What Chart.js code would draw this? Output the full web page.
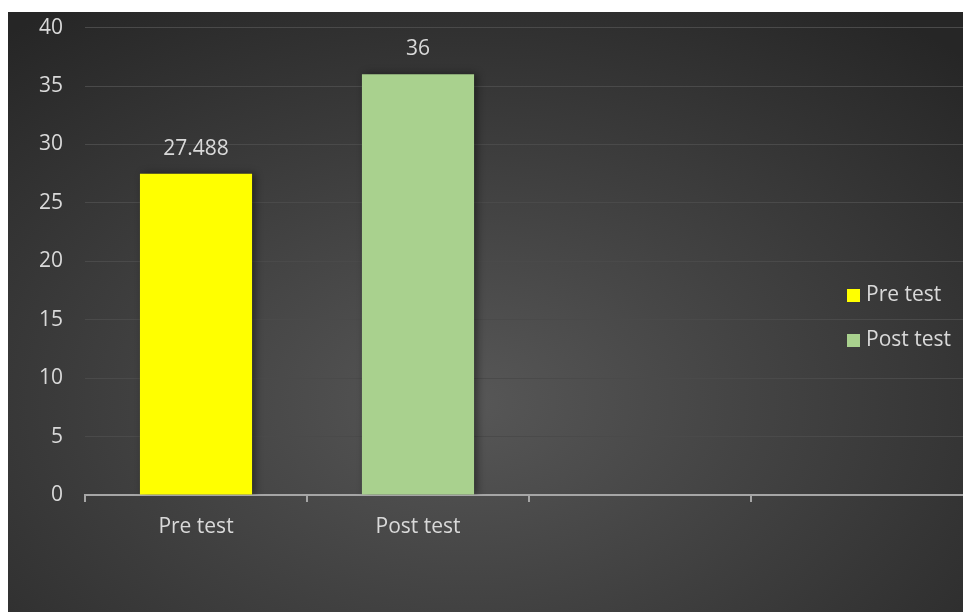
<!DOCTYPE html>
<html>
<head>
<meta charset="utf-8">
<script src="https://cdn.jsdelivr.net/npm/chart.js@4.4.0/dist/chart.umd.min.js"></script>
<style>
  html, body { margin: 0; padding: 0; background: #fff; }
  #frame {
    position: absolute; left: 8px; top: 12px; width: 955px; height: 600px;
    overflow: hidden;
    background: radial-gradient(ellipse 75% 80% at 48% 65%, #575757 0%, #3c3c3c 55%, #262626 100%);
  }
  #wrap { position: absolute; left: 0; top: -19px; width: 965px; height: 619px; }
  #legend {
    position: absolute; left: 839px; top: 259px;
    font-family: "Open Sans", sans-serif; font-size: 21px; color: #d9d9d9;
  }
  #legend div { height: 45px; line-height: 45px; white-space: nowrap; }
  #legend span { display: inline-block; width: 13px; height: 13px; margin-right: 6px; vertical-align: -1px; }
</style>
</head>
<body>
<div id="frame">
  <div id="wrap"><canvas id="myChart"></canvas></div>
  <div id="legend"></div>
</div>
<script>
var categories = ["Pre test", "Post test", "", ""]
var seriesNames = ["Pre test", "Post test"]
var preTest = [27.488, null, null, null]
var postTest = [null, 36, null, null]
var colors = ["#ffff00", "#a9d18e"]
var yTicks = [0, 5, 10, 15, 20, 25, 30, 35, 40]

var textColor = "#d9d9d9"
var font = { family: "Open Sans", size: 21 }

// value labels above the bars
var valueLabels = {
  id: "valueLabels",
  afterDatasetsDraw: function(chart) {
    var ctx = chart.ctx
    ctx.save()
    ctx.fillStyle = textColor
    ctx.font = "21px 'Open Sans'"
    ctx.textAlign = "center"
    ctx.textBaseline = "middle"
    chart.data.datasets.forEach(function(ds, i) {
      chart.getDatasetMeta(i).data.forEach(function(bar, j) {
        if (ds.data[j] == null) return
        ctx.fillText(String(ds.data[j]), bar.x, bar.y - 25)
      })
    })
    ctx.restore()
  }
}

var barShadow = {
  id: "barShadow",
  beforeDatasetsDraw: function(chart) {
    var ctx = chart.ctx
    ctx.save()
    ctx.shadowColor = "rgba(0,0,0,0.45)"
    ctx.shadowBlur = 8
    ctx.shadowOffsetX = 3
  },
  afterDatasetsDraw: function(chart) {
    chart.ctx.restore()
  }
}

var myChart = document.getElementById("myChart").getContext("2d")
var chart = new Chart(myChart, {
  type: "bar",
  data: {
    labels: categories,
    datasets: [
      { label: seriesNames[0], data: preTest, backgroundColor: colors[0] },
      { label: seriesNames[1], data: postTest, backgroundColor: colors[1] }
    ]
  },
  options: {
    responsive: true,
    maintainAspectRatio: false,
    animation: false,
    layout: { padding: { top: 0, right: 0, left: 0, bottom: 0 } },
    datasets: { bar: { categoryPercentage: 1, barPercentage: 0.505 } },
    plugins: { legend: { display: false }, tooltip: { enabled: false } },
    scales: {
      x: {
        stacked: true,
        afterFit: function(s) { s.height = 117 },
        grid: { drawOnChartArea: false, drawTicks: true, tickLength: 7, color: "#a6a6a6", lineWidth: 2, offset: true },
        border: { color: "#a6a6a6", width: 2 },
        ticks: { color: textColor, font: font, padding: 12 }
      },
      y: {
        min: 0, max: 40,
        afterFit: function(s) { s.width = 77 },
        afterBuildTicks: function(s) { s.ticks = yTicks.map(function(v) { return { value: v } }) },
        grid: { color: "#4a4a4a", lineWidth: 1, drawTicks: false },
        border: { display: false },
        ticks: { color: textColor, font: font, padding: 22 }
      }
    }
  },
  plugins: [barShadow, valueLabels]
})

var legend = document.getElementById("legend")
seriesNames.forEach(function(name, i) {
  var row = document.createElement("div")
  row.innerHTML = '<span style="background:' + colors[i] + '"></span>' + name
  legend.appendChild(row)
})
</script>
</body>
</html>
